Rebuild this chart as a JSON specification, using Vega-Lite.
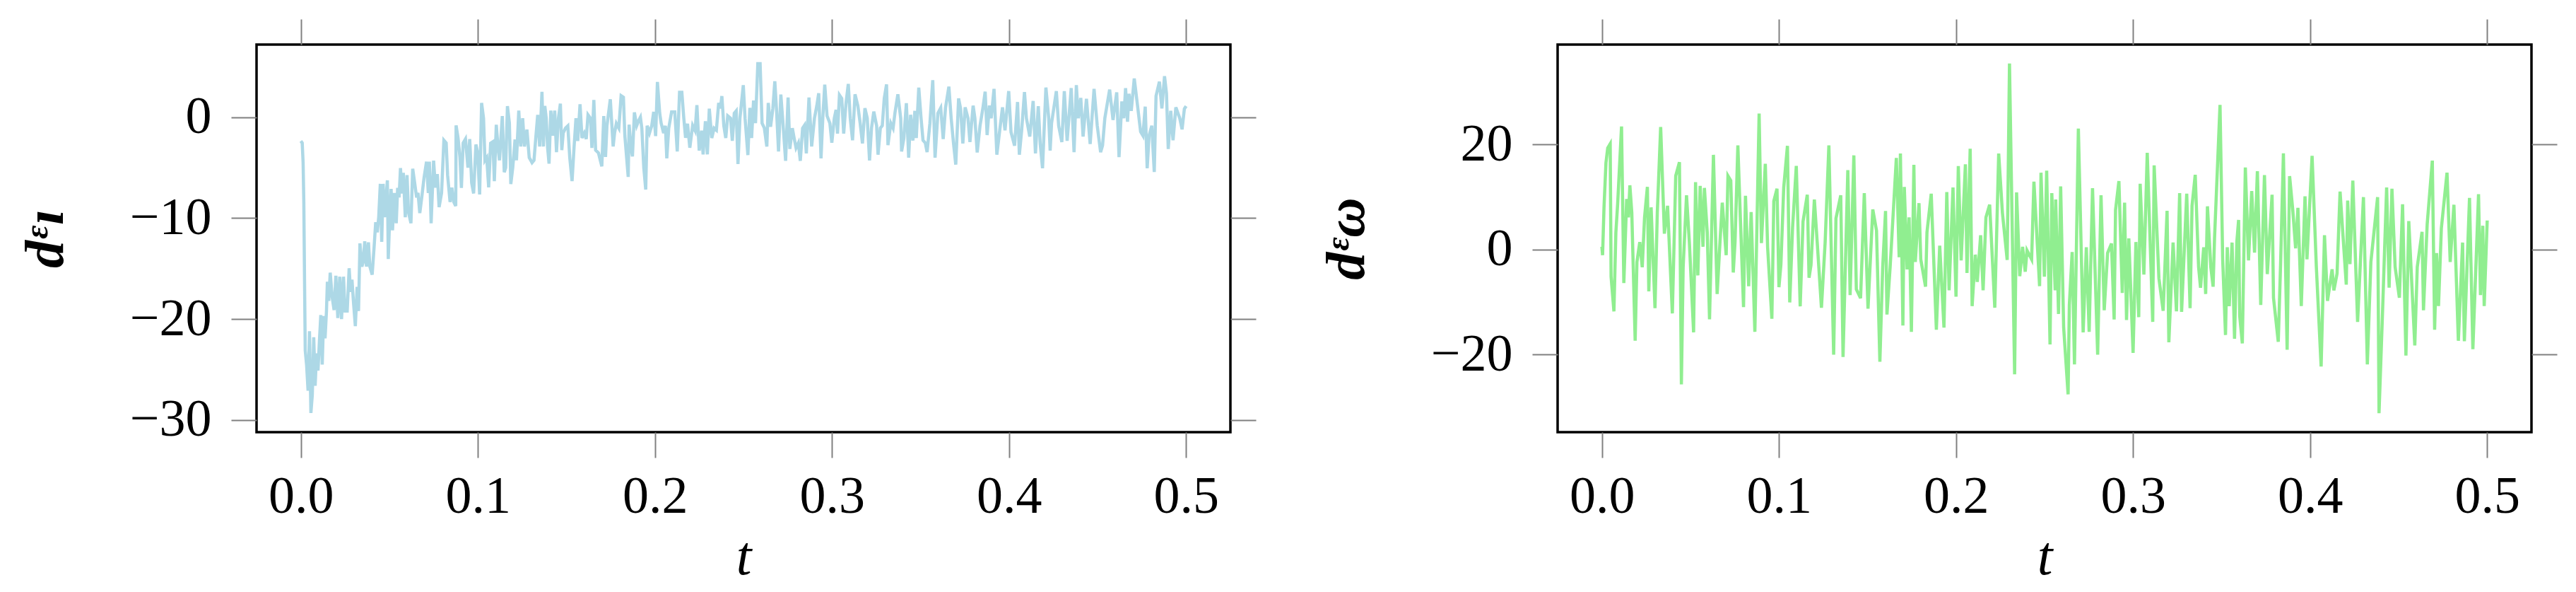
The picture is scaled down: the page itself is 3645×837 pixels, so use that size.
{
"$schema": "https://vega.github.io/schema/vega-lite/v6.json",
"background": "white",
"padding": {"left": 24, "top": 24, "right": 0, "bottom": 0},
"bounds": "flush",
"spacing": 463,
"config": {
  "view": {"stroke": "black", "strokeWidth": 3.5},
  "axis": {"domain": false, "grid": false, "tickColor": "#808080", "tickWidth": 2, "tickSize": 36, "labelFont": "Liberation Serif", "labelFontSize": 74, "labelColor": "black", "labelFlush": false, "titleFont": "Liberation Serif", "titleColor": "black", "titleFontSize": 78}
},
"datasets": {
"left": [
{"t":0,"v":-2.36},{"t":0.0008,"v":-2.55},{"t":0.0013,"v":-4.5},{"t":0.0017,"v":-8.4},{"t":0.0021,"v":-16.0},{"t":0.0025,"v":-23.1},{"t":0.0033,"v":-24.6},{"t":0.0041,"v":-27.1},{"t":0.0049,"v":-21.2},{"t":0.0057,"v":-29.3},{"t":0.0065,"v":-27.5},{"t":0.0073,"v":-21.8},{"t":0.0081,"v":-26.6},{"t":0.0089,"v":-23.4},{"t":0.0097,"v":-25.1},{"t":0.0105,"v":-22.2},{"t":0.0113,"v":-19.6},{"t":0.0121,"v":-24.5},{"t":0.0129,"v":-19.7},{"t":0.0137,"v":-21.9},{"t":0.0145,"v":-19.2},{"t":0.015,"v":-16.3},{"t":0.0158,"v":-18.2},{"t":0.0166,"v":-15.4},{"t":0.0177,"v":-17.8},{"t":0.0188,"v":-19.1},{"t":0.0198,"v":-15.7},{"t":0.0209,"v":-19.9},{"t":0.022,"v":-15.8},{"t":0.023,"v":-20.0},{"t":0.0241,"v":-15.8},{"t":0.025,"v":-19.2},{"t":0.0262,"v":-19.2},{"t":0.0273,"v":-14.96},{"t":0.0281,"v":-17.3},{"t":0.0289,"v":-16.1},{"t":0.0297,"v":-18.2},{"t":0.0308,"v":-20.7},{"t":0.0318,"v":-16.8},{"t":0.0326,"v":-19.2},{"t":0.0334,"v":-12.5},{"t":0.0345,"v":-14.8},{"t":0.0353,"v":-14.3},{"t":0.0361,"v":-12.3},{"t":0.0371,"v":-14.8},{"t":0.0382,"v":-12.4},{"t":0.039,"v":-14.8},{"t":0.0403,"v":-15.6},{"t":0.0414,"v":-12.85},{"t":0.0423,"v":-10.4},{"t":0.0432,"v":-11.4},{"t":0.044,"v":-9.9},{"t":0.0449,"v":-6.6},{"t":0.0457,"v":-12.35},{"t":0.0465,"v":-6.6},{"t":0.0473,"v":-9.9},{"t":0.0489,"v":-6.25},{"t":0.0494,"v":-14.05},{"t":0.0502,"v":-9.9},{"t":0.051,"v":-7.1},{"t":0.0518,"v":-11.2},{"t":0.0528,"v":-7.5},{"t":0.0539,"v":-10.5},{"t":0.0547,"v":-7.0},{"t":0.0555,"v":-7.95},{"t":0.0563,"v":-5.03},{"t":0.0571,"v":-7.55},{"t":0.0579,"v":-5.5},{"t":0.059,"v":-9.9},{"t":0.06,"v":-5.74},{"t":0.0608,"v":-9.4},{"t":0.0622,"v":-10.5},{"t":0.0632,"v":-5.1},{"t":0.0643,"v":-6.5},{"t":0.0654,"v":-7.95},{"t":0.0662,"v":-7.5},{"t":0.0672,"v":-9.5},{"t":0.0683,"v":-7.95},{"t":0.0696,"v":-5.99},{"t":0.071,"v":-4.4},{"t":0.072,"v":-7.5},{"t":0.0726,"v":-4.4},{"t":0.0736,"v":-10.5},{"t":0.075,"v":-4.3},{"t":0.076,"v":-6.97},{"t":0.0771,"v":-5.64},{"t":0.0781,"v":-8.9},{"t":0.0795,"v":-7.5},{"t":0.0808,"v":-2.28},{"t":0.0821,"v":-2.55},{"t":0.0829,"v":-5.74},{"t":0.0843,"v":-8.4},{"t":0.0853,"v":-6.97},{"t":0.0864,"v":-8.4},{"t":0.0875,"v":-8.8},{"t":0.0877,"v":-0.81},{"t":0.0888,"v":-2.06},{"t":0.0899,"v":-4.0},{"t":0.0907,"v":-7.0},{"t":0.0917,"v":-2.55},{"t":0.093,"v":-2.16},{"t":0.0944,"v":-5.0},{"t":0.0954,"v":-2.16},{"t":0.0965,"v":-6.5},{"t":0.0976,"v":-7.55},{"t":0.0989,"v":-2.7},{"t":0.0999,"v":-3.5},{"t":0.101,"v":-7.65},{"t":0.1021,"v":1.42},{"t":0.1032,"v":-0.1},{"t":0.104,"v":-4.27},{"t":0.105,"v":-4.0},{"t":0.1061,"v":-6.94},{"t":0.1072,"v":-2.58},{"t":0.1085,"v":-2.43},{"t":0.1093,"v":-6.33},{"t":0.1104,"v":-0.74},{"t":0.1114,"v":-3.04},{"t":0.1122,"v":-4.27},{"t":0.113,"v":-2.06},{"t":0.1138,"v":0.12},{"t":0.1149,"v":-5.45},{"t":0.1157,"v":-5.0},{"t":0.1167,"v":1.1},{"t":0.1178,"v":-0.59},{"t":0.1186,"v":-6.62},{"t":0.1197,"v":-5.0},{"t":0.121,"v":-2.21},{"t":0.1218,"v":-4.27},{"t":0.1231,"v":0.66},{"t":0.1242,"v":-2.9},{"t":0.1253,"v":-0.1},{"t":0.1263,"v":-2.9},{"t":0.1277,"v":-1.23},{"t":0.129,"v":-4.0},{"t":0.1306,"v":-4.5},{"t":0.1317,"v":-4.27},{"t":0.1327,"v":-2.06},{"t":0.1338,"v":0.24},{"t":0.1349,"v":-2.9},{"t":0.1362,"v":2.52},{"t":0.137,"v":-2.9},{"t":0.1378,"v":1.12},{"t":0.1386,"v":-0.1},{"t":0.1394,"v":-3.04},{"t":0.1402,"v":-4.6},{"t":0.1412,"v":0.66},{"t":0.1423,"v":-1.82},{"t":0.1434,"v":0.66},{"t":0.1444,"v":-3.46},{"t":0.1455,"v":-0.1},{"t":0.1466,"v":1.34},{"t":0.1474,"v":-3.26},{"t":0.1482,"v":-1.57},{"t":0.1495,"v":-1.08},{"t":0.1508,"v":-0.86},{"t":0.1519,"v":-4.02},{"t":0.1532,"v":-6.33},{"t":0.1543,"v":-3.04},{"t":0.1554,"v":-0.1},{"t":0.1564,"v":-2.36},{"t":0.1577,"v":1.29},{"t":0.1588,"v":-2.06},{"t":0.1601,"v":-1.57},{"t":0.1612,"v":-2.16},{"t":0.1622,"v":0.24},{"t":0.1636,"v":-0.1},{"t":0.1644,"v":-3.04},{"t":0.1655,"v":1.71},{"t":0.1665,"v":-3.26},
{"t":0.1681,"v":-3.53},{"t":0.170,"v":-4.86},{"t":0.1711,"v":0.12},{"t":0.1721,"v":-3.93},{"t":0.1729,"v":-0.84},{"t":0.1748,"v":1.78},{"t":0.1764,"v":-2.9},{"t":0.1772,"v":-1.57},{"t":0.1782,"v":-0.62},{"t":0.1796,"v":-1.08},{"t":0.1809,"v":2.13},{"t":0.1822,"v":1.98},{"t":0.183,"v":-1.82},{"t":0.1849,"v":-5.91},{"t":0.1854,"v":-0.74},{"t":0.1865,"v":-3.04},{"t":0.1873,"v":-3.88},{"t":0.1884,"v":0.49},{"t":0.1897,"v":-0.84},{"t":0.1908,"v":-0.35},{"t":0.1918,"v":0.0},{"t":0.1926,"v":-1.08},{"t":0.1937,"v":-5.0},{"t":0.1948,"v":-7.16},{"t":0.1956,"v":-0.84},{"t":0.1969,"v":-1.57},{"t":0.1982,"v":-0.84},{"t":0.1993,"v":0.53},{"t":0.2004,"v":-1.87},{"t":0.2014,"v":3.5},{"t":0.2027,"v":0.39},{"t":0.2035,"v":-0.59},{"t":0.2049,"v":-1.57},{"t":0.2059,"v":-0.84},{"t":0.2067,"v":-4.07},{"t":0.2078,"v":-1.08},{"t":0.2094,"v":0.53},{"t":0.2112,"v":0.53},{"t":0.2126,"v":-3.39},{"t":0.2139,"v":2.47},{"t":0.2152,"v":2.47},{"t":0.2163,"v":-0.1},{"t":0.2173,"v":-2.04},{"t":0.2184,"v":-0.64},{"t":0.2197,"v":-3.02},{"t":0.2213,"v":-0.81},{"t":0.2227,"v":-1.33},{"t":0.2237,"v":1.2},{"t":0.225,"v":-3.31},{"t":0.2264,"v":-1.33},{"t":0.2272,"v":-3.68},{"t":0.2285,"v":-0.4},{"t":0.2296,"v":-3.68},{"t":0.2307,"v":0.85},{"t":0.2321,"v":-2.06},{"t":0.2334,"v":-1.08},{"t":0.2347,"v":-1.28},{"t":0.236,"v":1.42},{"t":0.237,"v":0.88},{"t":0.2378,"v":2.1},{"t":0.2389,"v":-0.84},{"t":0.24,"v":-2.06},{"t":0.2411,"v":0.14},{"t":0.2427,"v":-0.1},{"t":0.2437,"v":-2.33},{"t":0.2448,"v":0.39},{"t":0.2459,"v":0.63},{"t":0.2469,"v":-4.64},{"t":0.248,"v":-0.1},{"t":0.2499,"v":3.18},{"t":0.2509,"v":-0.1},{"t":0.2525,"v":-3.75},{"t":0.2536,"v":0.93},{"t":0.2546,"v":-2.06},{"t":0.2557,"v":1.66},{"t":0.2568,"v":-0.59},{"t":0.2581,"v":5.31},{"t":0.2594,"v":5.31},{"t":0.2605,"v":-0.59},{"t":0.2618,"v":-1.08},{"t":0.2632,"v":-2.9},{"t":0.264,"v":1.42},{"t":0.2653,"v":-0.94},{"t":0.2666,"v":0.88},{"t":0.2677,"v":3.57},{"t":0.2687,"v":0.63},{"t":0.2698,"v":-3.39},{"t":0.2711,"v":2.25},{"t":0.2721,"v":-0.1},{"t":0.2738,"v":-4.32},{"t":0.2752,"v":1.96},{"t":0.2762,"v":-3.14},{"t":0.2776,"v":-1.08},{"t":0.2786,"v":-2.06},{"t":0.2797,"v":-3.04},{"t":0.281,"v":-2.55},{"t":0.2821,"v":-4.32},{"t":0.2834,"v":-1.08},{"t":0.2845,"v":-0.79},{"t":0.2855,"v":-3.58},{"t":0.287,"v":1.96},{"t":0.2885,"v":-2.9},{"t":0.2901,"v":-0.1},{"t":0.2914,"v":1.12},{"t":0.2925,"v":2.37},{"t":0.2938,"v":-4.07},{"t":0.2948,"v":-0.1},{"t":0.2959,"v":3.23},{"t":0.2972,"v":0.14},{"t":0.2988,"v":-0.59},{"t":0.2999,"v":-2.53},{"t":0.3013,"v":-0.1},{"t":0.3023,"v":0.73},{"t":0.3031,"v":-1.62},{"t":0.3042,"v":2.2},{"t":0.3055,"v":1.86},{"t":0.3066,"v":-1.62},{"t":0.3079,"v":1.37},{"t":0.3092,"v":3.3},{"t":0.3103,"v":-0.1},{"t":0.3116,"v":-2.28},{"t":0.313,"v":2.27},{"t":0.3146,"v":1.12},{"t":0.3159,"v":-0.59},{"t":0.3172,"v":-2.6},{"t":0.3186,"v":0.9},{"t":0.3199,"v":-0.1},{"t":0.3212,"v":-4.29},{"t":0.3223,"v":-1.08},{"t":0.3236,"v":0.56},{"t":0.3252,"v":-0.84},{"t":0.326,"v":-3.71},{"t":0.3273,"v":-1.08},{"t":0.3284,"v":-0.84},{"t":0.3295,"v":1.86},{"t":0.3308,"v":3.25},{"t":0.3316,"v":-2.77},{"t":0.3332,"v":-0.59},{"t":0.3345,"v":-1.08},{"t":0.3356,"v":0.49},
{"t":0.3372,"v":2.27},{"t":0.3388,"v":-0.1},{"t":0.3393,"v":-3.39},{"t":0.3406,"v":-2.06},{"t":0.342,"v":1.39},{"t":0.3433,"v":-4.0},{"t":0.3444,"v":0.24},{"t":0.3457,"v":-2.31},{"t":0.3468,"v":0.63},{"t":0.3476,"v":-2.06},{"t":0.349,"v":2.94},{"t":0.3503,"v":-0.1},{"t":0.3514,"v":-2.28},{"t":0.3527,"v":-2.55},{"t":0.3537,"v":-3.46},{"t":0.3553,"v":-0.59},{"t":0.3569,"v":3.67},{"t":0.3582,"v":-4.0},{"t":0.3598,"v":0.39},{"t":0.3614,"v":0.93},{"t":0.3628,"v":-2.16},{"t":0.3641,"v":0.93},{"t":0.366,"v":3.03},{"t":0.3673,"v":-0.1},{"t":0.3686,"v":-2.55},{"t":0.3699,"v":-4.69},{"t":0.3715,"v":1.86},{"t":0.3726,"v":0.88},{"t":0.3739,"v":-2.6},{"t":0.3752,"v":0.98},{"t":0.3768,"v":-0.1},{"t":0.3779,"v":-2.46},{"t":0.3797,"v":1.15},{"t":0.3807,"v":-0.1},{"t":0.382,"v":-3.49},{"t":0.3836,"v":-0.84},{"t":0.3852,"v":0.88},{"t":0.3865,"v":2.54},{"t":0.3876,"v":-1.77},{"t":0.3889,"v":1.17},{"t":0.3899,"v":-0.1},{"t":0.3915,"v":2.81},{"t":0.3931,"v":-3.71},{"t":0.3947,"v":-1.33},{"t":0.3963,"v":0.98},{"t":0.3977,"v":-1.3},{"t":0.3998,"v":2.59},{"t":0.4011,"v":-1.48},{"t":0.4031,"v":-2.82},{"t":0.4048,"v":1.51},{"t":0.4058,"v":-3.71},{"t":0.4071,"v":-1.33},{"t":0.4087,"v":2.5},{"t":0.4098,"v":-0.1},{"t":0.4117,"v":-1.92},{"t":0.4136,"v":1.61},{"t":0.4149,"v":-3.58},{"t":0.4165,"v":1.1},{"t":0.4176,"v":-2.65},{"t":0.4189,"v":-5.05},{"t":0.4208,"v":2.94},{"t":0.4224,"v":-0.1},{"t":0.4232,"v":-3.31},{"t":0.424,"v":-0.59},{"t":0.4267,"v":2.59},{"t":0.428,"v":-0.84},{"t":0.4298,"v":-2.46},{"t":0.4312,"v":2.59},{"t":0.4328,"v":-2.33},{"t":0.4351,"v":2.89},{"t":0.4367,"v":-3.46},{"t":0.438,"v":3.18},{"t":0.4391,"v":-0.1},{"t":0.4405,"v":1.91},{"t":0.4418,"v":-1.92},{"t":0.4437,"v":1.83},{"t":0.4458,"v":-2.65},{"t":0.448,"v":2.81},{"t":0.4498,"v":-0.84},{"t":0.4517,"v":-3.46},{"t":0.4528,"v":-2.8},{"t":0.4541,"v":-0.08},{"t":0.4568,"v":2.74},{"t":0.4587,"v":-0.27},{"t":0.4608,"v":2.47},{"t":0.4621,"v":-3.95},{"t":0.4637,"v":1.56},{"t":0.4648,"v":-0.1},{"t":0.4658,"v":2.89},{"t":0.4669,"v":-0.45},{"t":0.4677,"v":2.32},{"t":0.469,"v":0.63},{"t":0.4707,"v":3.84},{"t":0.4724,"v":1.37},{"t":0.4743,"v":-1.43},{"t":0.4756,"v":-1.82},{"t":0.4769,"v":1.05},{"t":0.478,"v":-5.05},{"t":0.4791,"v":-1.82},{"t":0.4806,"v":-0.84},{"t":0.482,"v":-5.42},{"t":0.483,"v":2.1},{"t":0.4849,"v":3.52},{"t":0.4863,"v":0.88},{"t":0.4878,"v":4.06},{"t":0.4889,"v":2.35},{"t":0.4899,"v":-3.14},{"t":0.4913,"v":0.63},{"t":0.4926,"v":-2.28},{"t":0.4942,"v":0.98},{"t":0.4964,"v":-0.1},{"t":0.4977,"v":-1.2},{"t":0.499,"v":0.83},{"t":0.5,"v":1.1}
],
"right": [
{"t":0,"v":0.5},{"t":0.0004,"v":-1.1},{"t":0.0012,"v":8.0},{"t":0.0023,"v":16.5},{"t":0.0033,"v":19.3},{"t":0.0047,"v":20.1},{"t":0.0052,"v":-5.2},{"t":0.0068,"v":-11.8},{"t":0.0079,"v":3.2},{"t":0.0089,"v":8.6},{"t":0.0111,"v":23.4},{"t":0.0124,"v":-6.4},{"t":0.014,"v":9.6},{"t":0.015,"v":6.1},{"t":0.0158,"v":12.2},{"t":0.0169,"v":7.0},{"t":0.0188,"v":-17.4},{"t":0.0198,"v":-2.4},{"t":0.0214,"v":1.4},{"t":0.0228,"v":-3.4},{"t":0.0241,"v":6.1},{"t":0.0257,"v":11.9},{"t":0.0265,"v":-8.0},{"t":0.0278,"v":8.0},{"t":0.03,"v":-11.2},{"t":0.0313,"v":7.0},{"t":0.0332,"v":23.3},{"t":0.0345,"v":10.8},{"t":0.0353,"v":3.0},{"t":0.0371,"v":8.3},{"t":0.0398,"v":-12.2},{"t":0.0417,"v":14.0},{"t":0.0438,"v":16.6},{"t":0.0449,"v":-25.7},{"t":0.0459,"v":-3.4},{"t":0.0478,"v":10.3},{"t":0.0494,"v":1.4},{"t":0.0518,"v":-15.8},{"t":0.0529,"v":12.8},{"t":0.0542,"v":-4.96},{"t":0.0555,"v":12.1},{"t":0.0571,"v":0.5},{"t":0.0579,"v":11.7},{"t":0.0595,"v":3.25},{"t":0.0608,"v":-13.3},{"t":0.063,"v":18.0},{"t":0.0651,"v":-8.5},{"t":0.0667,"v":1.4},{"t":0.068,"v":8.9},{"t":0.0702,"v":-1.1},{"t":0.0712,"v":14.0},{"t":0.0728,"v":13.1},{"t":0.0742,"v":-4.4},{"t":0.0752,"v":1.4},{"t":0.0768,"v":19.8},{"t":0.0782,"v":6.1},{"t":0.08,"v":-11.0},{"t":0.0811,"v":10.2},{"t":0.0829,"v":-7.0},{"t":0.0843,"v":7.1},{"t":0.0864,"v":-15.7},{"t":0.0888,"v":25.85},{"t":0.0901,"v":1.2},{"t":0.0923,"v":16.3},{"t":0.0936,"v":0.4},{"t":0.096,"v":-13.2},{"t":0.0971,"v":9.2},{"t":0.0989,"v":11.55},{"t":0.1,"v":-7.2},{"t":0.1011,"v":-2.9},{"t":0.1027,"v":11.8},{"t":0.1048,"v":19.7},{"t":0.1061,"v":-10.1},{"t":0.1077,"v":4.2},{"t":0.1098,"v":15.9},{"t":0.112,"v":-10.85},{"t":0.1136,"v":5.3},{"t":0.116,"v":10.4},{"t":0.117,"v":-5.4},{"t":0.1181,"v":-3.0},{"t":0.12,"v":9.5},{"t":0.1216,"v":1.4},{"t":0.124,"v":-11.1},{"t":0.1261,"v":1.4},{"t":0.1282,"v":19.8},{"t":0.1309,"v":-20.05},{"t":0.1322,"v":5.9},{"t":0.1349,"v":10.3},{"t":0.1362,"v":-20.5},{"t":0.1389,"v":15.1},{"t":0.1402,"v":-8.7},{"t":0.1423,"v":17.9},{"t":0.1437,"v":-7.6},{"t":0.1461,"v":-9.3},{"t":0.1482,"v":10.7},{"t":0.1503,"v":-11.3},{"t":0.153,"v":7.6},{"t":0.1551,"v":3.6},{"t":0.157,"v":-21.4},{"t":0.1586,"v":-3.35},{"t":0.1602,"v":7.3},{"t":0.161,"v":-12.4},{"t":0.1628,"v":-3.35},{"t":0.1644,"v":6.1},{"t":0.1663,"v":17.4},
{"t":0.1679,"v":-1.5},{"t":0.1686,"v":18.25},{"t":0.17,"v":-14.5},{"t":0.1708,"v":11.9},{"t":0.1724,"v":-3.8},{"t":0.1735,"v":6.1},{"t":0.1748,"v":-15.7},{"t":0.1762,"v":16.1},{"t":0.177,"v":-2.4},{"t":0.1791,"v":8.8},{"t":0.1801,"v":-1.9},{"t":0.1828,"v":-7.1},{"t":0.1836,"v":3.25},{"t":0.186,"v":10.6},{"t":0.1889,"v":-15.3},{"t":0.1908,"v":0.7},{"t":0.1932,"v":-14.9},{"t":0.1948,"v":10.9},{"t":0.1961,"v":-7.8},{"t":0.1983,"v":11.8},{"t":0.2,"v":-9.0},{"t":0.2013,"v":15.85},{"t":0.2029,"v":-2.1},{"t":0.2053,"v":16.2},{"t":0.2062,"v":-4.5},{"t":0.208,"v":19.15},{"t":0.2091,"v":-10.8},{"t":0.2109,"v":-1.0},{"t":0.212,"v":-6.2},{"t":0.2139,"v":2.7},{"t":0.2153,"v":-7.8},{"t":0.2169,"v":6.1},{"t":0.219,"v":8.5},{"t":0.2219,"v":-11.1},{"t":0.2241,"v":18.25},{"t":0.2262,"v":7.0},{"t":0.2289,"v":-2.0},{"t":0.2302,"v":35.4},{"t":0.2331,"v":-23.8},{"t":0.2342,"v":10.85},{"t":0.236,"v":-5.1},{"t":0.2376,"v":0.5},{"t":0.2391,"v":-4.25},{"t":0.2401,"v":-0.2},{"t":0.2427,"v":-1.9},{"t":0.244,"v":12.9},{"t":0.2472,"v":-7.0},{"t":0.248,"v":14.6},{"t":0.2499,"v":-5.2},{"t":0.2512,"v":15.0},{"t":0.2531,"v":-18.1},{"t":0.2541,"v":10.7},{"t":0.256,"v":-7.8},{"t":0.2563,"v":9.5},{"t":0.2579,"v":-12.3},{"t":0.2591,"v":12.0},{"t":0.2608,"v":-14.9},{"t":0.2633,"v":-27.6},{"t":0.264,"v":-10.6},{"t":0.2656,"v":-0.5},{"t":0.2669,"v":-21.9},{"t":0.2691,"v":23.0},{"t":0.2718,"v":-15.8},{"t":0.2736,"v":0.4},{"t":0.2752,"v":-15.7},{"t":0.2771,"v":11.65},{"t":0.28,"v":-20.05},{"t":0.2819,"v":10.3},{"t":0.2837,"v":-11.6},{"t":0.2856,"v":-0.7},{"t":0.2878,"v":1.1},{"t":0.2893,"v":-13.35},{"t":0.2901,"v":7.5},{"t":0.292,"v":13.0},{"t":0.2939,"v":-8.3},{"t":0.2952,"v":8.9},{"t":0.2963,"v":-13.45},{"t":0.2976,"v":2.1},{"t":0.3,"v":-19.7},{"t":0.3016,"v":1.4},{"t":0.3032,"v":-12.9},{"t":0.304,"v":12.5},{"t":0.3061,"v":-4.8},{"t":0.308,"v":18.4},{"t":0.3111,"v":-13.8},{"t":0.3119,"v":16.0},{"t":0.3146,"v":-5.5},{"t":0.317,"v":-11.7},{"t":0.3192,"v":7.35},{"t":0.3202,"v":-17.7},{"t":0.3226,"v":1.3},{"t":0.3245,"v":-11.8},{"t":0.3263,"v":10.7},{"t":0.3274,"v":-11.9},{"t":0.3303,"v":10.6},{"t":0.3322,"v":-11.2},{"t":0.3333,"v":8.3},{"t":0.3351,"v":14.2},
{"t":0.337,"v":-3.35},{"t":0.3381,"v":-7.3},{"t":0.3399,"v":0.4},{"t":0.341,"v":-8.5},{"t":0.342,"v":8.2},{"t":0.3439,"v":-3.35},{"t":0.3452,"v":-7.1},{"t":0.346,"v":2.1},{"t":0.3491,"v":27.5},{"t":0.3506,"v":-1.9},{"t":0.3522,"v":-16.3},{"t":0.3532,"v":0.4},{"t":0.3543,"v":-10.8},{"t":0.3559,"v":1.3},{"t":0.3573,"v":-17.0},{"t":0.3586,"v":1.4},{"t":0.3596,"v":5.6},{"t":0.3602,"v":-12.6},{"t":0.3617,"v":-17.9},{"t":0.3634,"v":15.6},{"t":0.3652,"v":-2.1},{"t":0.367,"v":11.1},{"t":0.3686,"v":-0.6},{"t":0.3702,"v":14.9},{"t":0.3721,"v":-10.6},{"t":0.3742,"v":14.15},{"t":0.3758,"v":-4.7},{"t":0.3785,"v":10.4},{"t":0.3793,"v":-9.2},{"t":0.382,"v":-17.6},{"t":0.3833,"v":-2.9},{"t":0.3849,"v":18.3},{"t":0.387,"v":-19.1},{"t":0.3884,"v":13.95},{"t":0.3902,"v":7.45},{"t":0.3918,"v":0.2},{"t":0.3931,"v":7.9},{"t":0.395,"v":-10.8},{"t":0.3971,"v":10.1},{"t":0.3982,"v":-1.9},{"t":0.4011,"v":17.8},{"t":0.4035,"v":-3.3},{"t":0.4062,"v":-22.3},{"t":0.4081,"v":2.7},{"t":0.4098,"v":-9.8},{"t":0.4124,"v":-3.8},{"t":0.4134,"v":-7.8},{"t":0.4152,"v":-4.6},{"t":0.4169,"v":11.0},{"t":0.4204,"v":-6.7},{"t":0.4212,"v":9.3},{"t":0.4225,"v":-2.8},{"t":0.4241,"v":13.1},{"t":0.4268,"v":-13.8},{"t":0.4301,"v":9.95},{"t":0.4323,"v":-21.9},{"t":0.4343,"v":-2.4},{"t":0.4381,"v":9.95},{"t":0.4389,"v":-31.2},{"t":0.4408,"v":-12.8},{"t":0.4432,"v":11.8},{"t":0.4446,"v":-7.3},{"t":0.4462,"v":11.55},{"t":0.448,"v":-3.35},{"t":0.4504,"v":-9.2},{"t":0.4522,"v":8.6},{"t":0.4541,"v":-20.2},{"t":0.4557,"v":5.4},{"t":0.4591,"v":-18.3},{"t":0.4605,"v":-3.35},{"t":0.4632,"v":3.35},{"t":0.464,"v":-11.6},{"t":0.4661,"v":4.8},{"t":0.469,"v":16.9},{"t":0.4703,"v":-15.3},{"t":0.4714,"v":-0.7},{"t":0.4725,"v":-10.8},{"t":0.4741,"v":4.0},{"t":0.4773,"v":14.6},{"t":0.4791,"v":-2.4},{"t":0.4812,"v":8.5},{"t":0.4837,"v":-17.4},{"t":0.4861,"v":1.3},{"t":0.4871,"v":-17.5},{"t":0.49,"v":9.8},{"t":0.4919,"v":-19.0},{"t":0.4951,"v":10.5},{"t":0.4962,"v":-8.7},{"t":0.4975,"v":4.5},{"t":0.4983,"v":-10.8},{"t":0.5,"v":5.5}
]
},
"hconcat": [
{
 "width": 1378, "height": 548,
 "data": {"name": "left"},
 "layer": [
  {"mark": {"type": "line", "color": "#ADD8E6", "strokeWidth": 4.5},
   "encoding": {
    "x": {"field": "t", "type": "quantitative", "scale": {"domain": [-0.025, 0.525], "nice": false, "zero": false},
          "axis": {"orient": "bottom", "values": [0, 0.1, 0.2, 0.3, 0.4, 0.5], "format": ".1f", "labelPadding": 19, "title": "t", "titleFontStyle": "italic", "titleFontWeight": "normal", "titleBaseline": "alphabetic", "titleY": 200}},
    "y": {"field": "v", "type": "quantitative", "scale": {"domain": [-31.2, 7.2], "nice": false, "zero": false},
          "axis": {"orient": "left", "values": [-30, -20, -10, 0], "labelPadding": 28, "title": "dᵋɪ", "titleFontStyle": "italic", "titleFontWeight": "bold", "titleAngle": -90, "titleBaseline": "alphabetic", "titleAlign": "center", "titleX": -275}}
   }},
  {"mark": {"type": "line", "strokeOpacity": 0},
   "encoding": {
    "x": {"field": "t", "type": "quantitative", "axis": {"orient": "top", "values": [0, 0.1, 0.2, 0.3, 0.4, 0.5], "labels": false, "title": null}},
    "y": {"field": "v", "type": "quantitative", "axis": {"orient": "right", "values": [-30, -20, -10, 0], "labels": false, "title": null}}
   }}
 ],
 "resolve": {"axis": {"x": "independent", "y": "independent"}}
},
{
 "width": 1378, "height": 548,
 "data": {"name": "right"},
 "layer": [
  {"mark": {"type": "line", "color": "#90EE90", "strokeWidth": 4.5},
   "encoding": {
    "x": {"field": "t", "type": "quantitative", "scale": {"domain": [-0.025, 0.525], "nice": false, "zero": false},
          "axis": {"orient": "bottom", "values": [0, 0.1, 0.2, 0.3, 0.4, 0.5], "format": ".1f", "labelPadding": 19, "title": "t", "titleFontStyle": "italic", "titleFontWeight": "normal", "titleBaseline": "alphabetic", "titleY": 200}},
    "y": {"field": "v", "type": "quantitative", "scale": {"domain": [-34.8, 39.0], "nice": false, "zero": false},
          "axis": {"orient": "left", "values": [-20, 0, 20], "labelPadding": 28, "title": "dᵋω", "titleFontStyle": "italic", "titleFontWeight": "bold", "titleAngle": -90, "titleBaseline": "alphabetic", "titleAlign": "center", "titleX": -275}}
   }},
  {"mark": {"type": "line", "strokeOpacity": 0},
   "encoding": {
    "x": {"field": "t", "type": "quantitative", "axis": {"orient": "top", "values": [0, 0.1, 0.2, 0.3, 0.4, 0.5], "labels": false, "title": null}},
    "y": {"field": "v", "type": "quantitative", "axis": {"orient": "right", "values": [-20, 0, 20], "labels": false, "title": null}}
   }}
 ],
 "resolve": {"axis": {"x": "independent", "y": "independent"}}
}
]
}
